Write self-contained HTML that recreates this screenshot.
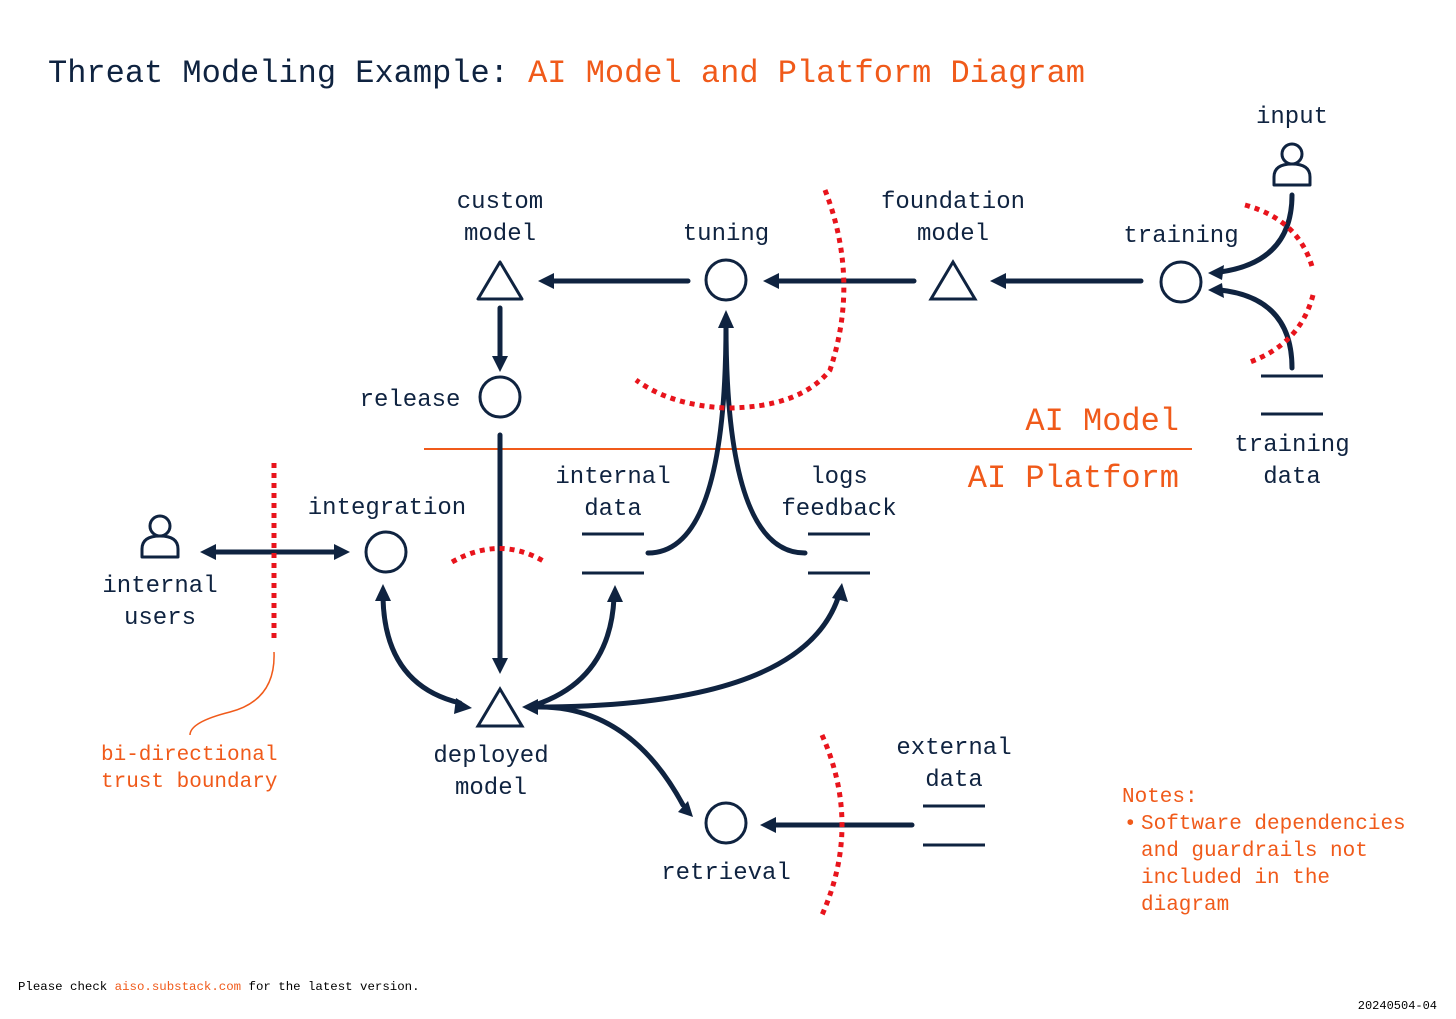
<!DOCTYPE html>
<html><head><meta charset="utf-8"><style>
html,body{margin:0;padding:0;background:#fff}
svg{display:block}
text{font-family:"Liberation Mono",monospace}
.n{fill:#0f2340;font-size:24px}
.o{fill:#f05a1a}
</style></head><body>
<svg width="1456" height="1019" viewBox="0 0 1456 1019" xmlns="http://www.w3.org/2000/svg">
<text x="48" y="82" style="font-size:32px" fill="#0f2340">Threat Modeling Example: <tspan fill="#f05a1a">AI Model and Platform Diagram</tspan></text>

<g fill="none" stroke="#0f2340" stroke-width="3">
<polygon points="500,262 478,299 522,299" stroke-linejoin="round"/>
<polygon points="953,262 931,299 975,299"/>
<polygon points="500,689 478,726 522,726"/>
<circle cx="726" cy="280" r="20"/>
<circle cx="1181" cy="282" r="20"/>
<circle cx="500" cy="397" r="20"/>
<circle cx="386" cy="552" r="20"/>
<circle cx="726" cy="823" r="20"/>
<path d="M1274,185 L1274,177 Q1274,164 1292,164 Q1310,164 1310,177 L1310,185 Z" stroke-linejoin="round"/>
<circle cx="1292" cy="154" r="10" fill="#fff"/>
<path d="M142,557 L142,549 Q142,536 160,536 Q178,536 178,549 L178,557 Z" stroke-linejoin="round"/>
<circle cx="160" cy="526" r="10" fill="#fff"/>
</g>
<g stroke="#0f2340" stroke-width="3">
<line x1="1261" y1="376" x2="1323" y2="376"/><line x1="1261" y1="414" x2="1323" y2="414"/>
<line x1="582" y1="534" x2="644" y2="534"/><line x1="582" y1="573" x2="644" y2="573"/>
<line x1="808" y1="534" x2="870" y2="534"/><line x1="808" y1="573" x2="870" y2="573"/>
<line x1="923" y1="806" x2="985" y2="806"/><line x1="923" y1="845" x2="985" y2="845"/>
</g>
<line x1="424" y1="449" x2="1192" y2="449" stroke="#f05a1a" stroke-width="2"/>

<g fill="none" stroke="#0f2340" stroke-width="5" stroke-linecap="round">
<line x1="1141" y1="281" x2="1000" y2="281"/>
<line x1="914" y1="281" x2="773" y2="281"/>
<line x1="688" y1="281" x2="548" y2="281"/>
<line x1="500" y1="308" x2="500" y2="360"/>
<line x1="500" y1="435" x2="500" y2="662"/>
<line x1="212" y1="552" x2="338" y2="552"/>
<line x1="912" y1="825" x2="770" y2="825"/>
<path d="M1292,195 Q1292,262 1220,272"/>
<path d="M1292,368 Q1292,298 1220,290"/>
<path d="M648,553 Q726,553 726,325"/>
<path d="M805,553 Q726,553 726,325"/>
<path d="M535,705 Q610,680 614,598"/>
<path d="M535,707 Q800,707 838,598"/>
<path d="M383,598 Q385,685 460,703"/>
<path d="M540,707 Q630,707 683,805"/>
</g>
<g fill="#0f2340">
<polygon points="538,281 554,273 554,289"/>
<polygon points="763,281 779,273 779,289"/>
<polygon points="990,281 1006,273 1006,289"/>
<polygon points="500,372 492,356 508,356"/>
<polygon points="500,674 492,658 508,658"/>
<polygon points="200,552 216,544 216,560"/>
<polygon points="350,552 334,544 334,560"/>
<polygon points="760,825 776,817 776,833"/>
<polygon points="1208,273 1224,265 1222,280"/>
<polygon points="1208,290 1222,283 1224,298"/>
<polygon points="726,310 718,328 734,328"/>
<polygon points="615,585 607,602 623,602"/>
<polygon points="842,583 832,598 848,602"/>
<polygon points="383,584 375,601 391,601"/>
<polygon points="472,708 456,698 454,714"/>
<polygon points="522,707 538,699 538,715"/>
<polygon points="693,817 678,812 688,801"/>
</g>

<g fill="none" stroke="#e8141c" stroke-width="5" stroke-dasharray="5,5">
<path d="M825,190 Q860,280 830,370 Q800,408 725,408 Q670,405 636,380"/>
<path d="M452,562 Q500,535 545,562"/>
<line x1="274" y1="463" x2="274" y2="643"/>
<path d="M822,735 Q862,825 822,915"/>
<path d="M1245,205 Q1300,220 1313,270"/>
<path d="M1313,295 Q1300,345 1247,363"/>
</g>
<path d="M274,652 Q276,700 230,712 Q190,722 190,735" fill="none" stroke="#f05a1a" stroke-width="1.5"/>

<g class="n" text-anchor="middle">
<text x="1292" y="123">input</text>
<text x="500" y="208">custom</text><text x="500" y="240">model</text>
<text x="726" y="240">tuning</text>
<text x="953" y="208">foundation</text><text x="953" y="240">model</text>
<text x="1181" y="242">training</text>
<text x="410" y="406">release</text>
<text x="1292" y="451">training</text><text x="1292" y="483">data</text>
<text x="613" y="483">internal</text><text x="613" y="515">data</text>
<text x="839" y="483">logs</text><text x="839" y="515">feedback</text>
<text x="387" y="514">integration</text>
<text x="160" y="592">internal</text><text x="160" y="624">users</text>
<text x="491" y="762">deployed</text><text x="491" y="794">model</text>
<text x="954" y="754">external</text><text x="954" y="786">data</text>
<text x="726" y="879">retrieval</text>
</g>
<g class="o" style="font-size:32px" text-anchor="end">
<text x="1179" y="430">AI Model</text>
<text x="1179" y="487">AI Platform</text>
</g>
<g class="o" style="font-size:21px">
<text x="101" y="760">bi-directional</text>
<text x="101" y="787">trust boundary</text>
<text x="1122" y="802">Notes:</text>
<text x="1124" y="829">•</text>
<text x="1141" y="829">Software dependencies</text>
<text x="1141" y="856">and guardrails not</text>
<text x="1141" y="883">included in the</text>
<text x="1141" y="910">diagram</text>
</g>
<text x="18" y="990" style="font-size:12.4px" fill="#000">Please check <tspan fill="#f05a1a">aiso.substack.com</tspan> for the latest version.</text>
<text x="1437" y="1009" style="font-size:12px" fill="#000" text-anchor="end">20240504-04</text>
</svg>
</body></html>
